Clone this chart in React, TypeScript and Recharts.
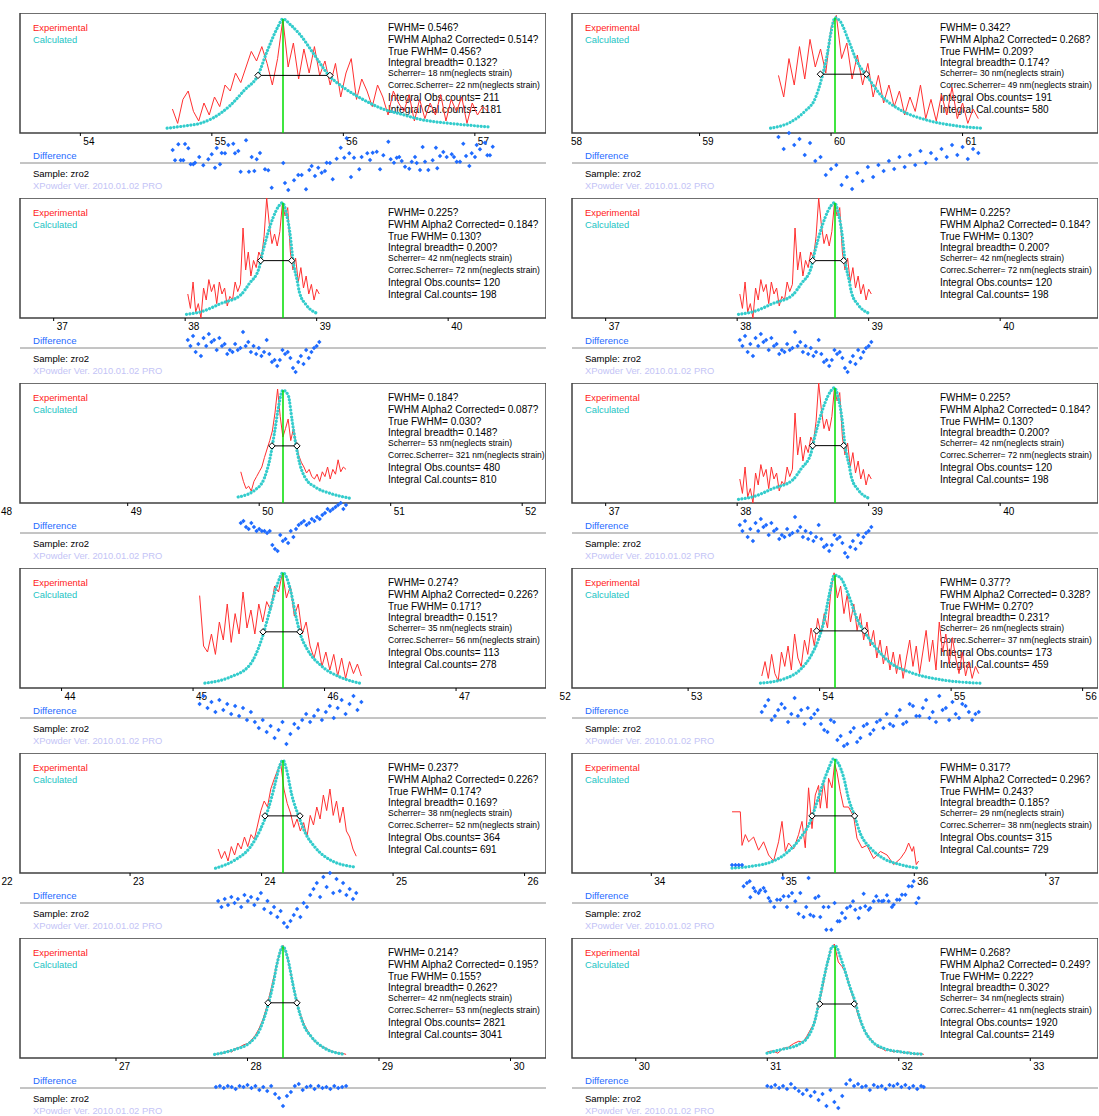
import React from "react";
import {
  ComposedChart,
  ScatterChart,
  Line,
  Scatter,
  XAxis,
  YAxis,
  ReferenceLine,
  ReferenceDot,
  ReferenceArea,
} from "recharts";

type Pt = [number, number];

// ---------- panel 1 (left, row 1) ----------
const l1Exp: Pt[] = [[54.70,20],[54.74,8],[54.78,28],[54.82,35],[54.86,18],[54.90,10],[54.94,25],[54.98,15],[55.02,30],[55.06,22],[55.10,40],[55.14,35],[55.18,50],[55.22,42],[55.26,55],[55.30,68],[55.34,60],[55.38,72],[55.42,58],[55.46,40],[55.50,62],[55.54,95],[55.58,55],[55.62,75],[55.66,45],[55.70,70],[55.74,50],[55.78,72],[55.82,48],[55.86,60],[55.90,40],[55.94,58],[55.98,30],[56.02,50],[56.06,62],[56.10,28],[56.14,45],[56.18,35],[56.22,22],[56.26,40],[56.30,30],[56.34,15],[56.38,35],[56.42,25],[56.46,18],[56.50,32],[56.54,10],[56.58,28],[56.62,12],[56.66,25],[56.70,15],[56.74,32],[56.78,10],[56.82,28],[56.86,18],[56.90,30],[56.94,8],[56.98,25],[57.02,15],[57.06,22],[57.10,18]];
const l1Calc: Pt[] = [[54.66,4],[54.8,6],[54.91,8],[55.0,12],[55.14,23],[55.25,36],[55.35,48],[55.42,68],[55.5,88],[55.54,95],[55.6,90],[55.67,82],[55.78,65],[55.89,48],[56.0,38],[56.1,31],[56.2,25],[56.3,20],[56.43,16],[56.6,11],[56.81,8],[57.0,6],[57.11,5]];
const l1Diff: Pt[] = [[54.702,13],[54.720,2.7],[54.745,18.7],[54.763,2.7],[54.783,2.7],[54.796,19],[54.821,14.7],[54.839,-1.3],[54.859,-1.3],[54.872,0.3],[54.904,6],[54.935,-2.3],[54.973,3.7],[54.999,8.7],[55.024,-4.7],[55.037,15],[55.062,-1.3],[55.075,10],[55.100,9.7],[55.125,18],[55.163,19.3],[55.176,9.7],[55.201,12],[55.219,-8.7],[55.260,22.7],[55.282,-8.7],[55.303,6],[55.323,-8],[55.341,3.7],[55.366,10],[55.404,-6.3],[55.429,-7.3],[55.455,-24.7],[55.543,0],[55.556,-20],[55.581,-27],[55.625,-17.3],[55.657,-12],[55.683,-12],[55.716,-26.3],[55.741,-7],[55.759,-3],[55.784,-13],[55.809,-4.7],[55.835,-9.7],[55.860,-8],[55.873,0.3],[55.898,0],[55.919,-16.3],[55.949,4.3],[55.980,15.3],[56.007,5.3],[56.025,24.7],[56.045,9.7],[56.058,-14],[56.081,5.3],[56.121,-6.3],[56.139,6],[56.182,9.7],[56.203,3],[56.223,10.3],[56.254,11.3],[56.279,-6.3],[56.304,7.7],[56.342,21.3],[56.360,3.7],[56.385,0.3],[56.406,5.3],[56.425,6],[56.444,2],[56.469,-3.7],[56.501,-5.7],[56.520,1.3],[56.545,6],[56.558,0],[56.583,-7],[56.603,16],[56.621,1.3],[56.646,-7],[56.679,2.7],[56.704,15.3],[56.714,-5.3],[56.735,7],[56.760,11],[56.786,6],[56.824,8.7],[56.841,6],[56.862,1.3],[56.887,1.3],[56.912,19.3],[56.933,7],[56.958,-3],[56.976,9.7],[57.001,6],[57.014,18],[57.039,13.7],[57.077,20.3],[57.095,7.7],[57.115,7.7],[57.136,16.3]];
const l1Fwhm: [number, number, number] = [55.351, 55.898, 48];
const l1Stats = ["FWHM= 0.546?", "FWHM Alpha2 Corrected= 0.514?", "True FWHM= 0.456?", "Integral breadth= 0.132?", "Scherrer= 18 nm(neglects strain)", "Correc.Scherrer= 22 nm(neglects strain)", "Integral Obs.counts= 211", "Integral Cal.counts= 1181"];

// ---------- panel 2 (38.7 deg, used three times) ----------
const p38Exp: Pt[] = [[38.02,20],[38.04,8],[38.06,30],[38.08,5],[38.10,12],[38.12,0],[38.14,25],[38.16,15],[38.18,32],[38.20,22],[38.22,28],[38.24,12],[38.26,30],[38.28,20],[38.30,25],[38.32,10],[38.34,18],[38.36,15],[38.38,30],[38.40,22],[38.42,28],[38.44,75],[38.46,40],[38.48,55],[38.50,35],[38.52,48],[38.54,42],[38.56,55],[38.58,50],[38.60,68],[38.62,100],[38.64,78],[38.66,62],[38.68,70],[38.70,60],[38.72,72],[38.74,96],[38.76,85],[38.78,92],[38.80,55],[38.82,40],[38.84,50],[38.86,30],[38.88,42],[38.90,25],[38.92,35],[38.94,20],[38.96,28],[38.98,15],[39.00,24],[39.02,20]];
const p38Calc: Pt[] = [[38.01,3],[38.13,5.5],[38.27,12],[38.42,19],[38.49,29],[38.56,41],[38.59,55],[38.63,71],[38.67,84],[38.71,93],[38.74,96],[38.77,87],[38.80,68],[38.82,48],[38.85,32],[38.87,21],[38.92,11],[39.0,4]];
const p38Diff: Pt[] = [[38.02,8],[38.04,2],[38.06,12],[38.08,-4],[38.10,4],[38.12,-8],[38.14,10],[38.16,2],[38.18,14],[38.20,6],[38.22,8],[38.24,-2],[38.26,10],[38.28,2],[38.30,4],[38.32,-6],[38.34,-2],[38.36,-4],[38.38,4],[38.40,-2],[38.42,0],[38.44,16],[38.46,2],[38.48,6],[38.50,-4],[38.52,2],[38.54,-6],[38.56,0],[38.58,-8],[38.60,-4],[38.62,8],[38.64,-6],[38.66,-14],[38.68,-12],[38.70,-18],[38.72,-12],[38.74,-2],[38.76,-6],[38.78,-4],[38.80,-10],[38.82,-20],[38.84,-24],[38.86,-14],[38.88,-8],[38.90,-16],[38.92,-2],[38.94,-10],[38.96,-4],[38.98,0],[39.00,2],[39.02,6]];
const p38Fwhm: [number, number, number] = [38.574, 38.81, 47.8];
const p38Stats = ["FWHM= 0.225?", "FWHM Alpha2 Corrected= 0.184?", "True FWHM= 0.130?", "Integral breadth= 0.200?", "Scherrer= 42 nm(neglects strain)", "Correc.Scherrer= 72 nm(neglects strain)", "Integral Obs.counts= 120", "Integral Cal.counts= 198"];

// ---------- panel 3 (left, row 3) ----------
const l3Exp: Pt[] = [[49.86,26],[49.88,18],[49.90,12],[49.92,14],[49.94,10],[49.96,18],[49.98,22],[50.00,26],[50.02,30],[50.04,38],[50.06,45],[50.08,52],[50.10,60],[50.12,75],[50.14,95],[50.16,72],[50.18,55],[50.20,62],[50.22,70],[50.24,52],[50.26,62],[50.28,50],[50.30,40],[50.32,34],[50.34,30],[50.36,25],[50.38,28],[50.40,22],[50.42,20],[50.44,24],[50.46,18],[50.48,26],[50.50,22],[50.52,30],[50.54,20],[50.56,28],[50.58,24],[50.60,36],[50.62,26],[50.64,30],[50.66,28]];
const l3Calc: Pt[] = [[49.84,5],[49.97,11],[50.04,21],[50.08,36],[50.12,61],[50.15,82],[50.18,94],[50.22,90],[50.25,69],[50.28,48],[50.31,32],[50.35,21],[50.43,13],[50.54,8],[50.69,4]];
const l3Diff: Pt[] = [[49.86,10],[49.88,12],[49.90,6],[49.92,4],[49.94,10],[49.96,6],[49.98,2],[50.00,4],[50.02,2],[50.04,2],[50.06,0],[50.08,2],[50.10,-12],[50.12,-16],[50.14,-18],[50.16,-2],[50.18,-8],[50.20,-6],[50.22,-10],[50.24,2],[50.26,-4],[50.28,4],[50.30,8],[50.32,10],[50.34,12],[50.36,8],[50.38,10],[50.40,14],[50.42,12],[50.44,16],[50.46,14],[50.48,18],[50.50,20],[50.52,24],[50.54,22],[50.56,24],[50.58,26],[50.60,28],[50.62,30],[50.64,24],[50.66,28]];
const l3Fwhm: [number, number, number] = [50.097, 50.287, 47.6];
const l3Stats = ["FWHM= 0.184?", "FWHM Alpha2 Corrected= 0.087?", "True FWHM= 0.030?", "Integral breadth= 0.148?", "Scherrer= 53 nm(neglects strain)", "Correc.Scherrer= 321 nm(neglects strain)", "Integral Obs.counts= 480", "Integral Cal.counts= 810"];

// ---------- panel 4 (left, row 4) ----------
const l4Exp: Pt[] = [[45.05,77],[45.08,35],[45.11,30],[45.14,45],[45.17,28],[45.20,55],[45.23,40],[45.26,70],[45.29,38],[45.32,62],[45.35,45],[45.38,80],[45.41,50],[45.44,65],[45.47,45],[45.50,70],[45.53,55],[45.56,72],[45.59,65],[45.62,85],[45.65,80],[45.68,96],[45.71,75],[45.74,85],[45.77,60],[45.80,70],[45.83,45],[45.86,55],[45.89,35],[45.92,25],[45.95,38],[45.98,18],[46.01,30],[46.04,15],[46.07,28],[46.10,10],[46.13,25],[46.16,8],[46.19,22],[46.22,12],[46.25,20],[46.28,10]];
const l4Calc: Pt[] = [[45.09,4],[45.28,9],[45.43,19],[45.52,40],[45.585,65],[45.64,86],[45.684,96],[45.74,82],[45.78,61],[45.81,47],[45.87,32],[45.97,19],[46.12,9],[46.27,4]];
const l4Diff: Pt[] = [[45.05,14],[45.08,22],[45.11,10],[45.14,16],[45.17,6],[45.20,18],[45.23,8],[45.26,14],[45.29,4],[45.32,12],[45.35,2],[45.38,10],[45.41,-2],[45.44,6],[45.47,-4],[45.50,-10],[45.53,-2],[45.56,-14],[45.59,-8],[45.62,-20],[45.65,-12],[45.68,-4],[45.71,-26],[45.74,-16],[45.77,-6],[45.80,-10],[45.83,-2],[45.86,4],[45.89,-4],[45.92,2],[45.95,8],[45.98,-2],[46.01,6],[46.04,12],[46.07,0],[46.10,10],[46.13,18],[46.16,4],[46.19,14],[46.22,22],[46.25,8],[46.28,16]];
const l4Fwhm: [number, number, number] = [45.532, 45.813, 46.8];
const l4Stats = ["FWHM= 0.274?", "FWHM Alpha2 Corrected= 0.226?", "True FWHM= 0.171?", "Integral breadth= 0.151?", "Scherrer= 35 nm(neglects strain)", "Correc.Scherrer= 56 nm(neglects strain)", "Integral Obs.counts= 113", "Integral Cal.counts= 278"];

// ---------- panel 5 (left, row 5) ----------
const l5Exp: Pt[] = [[23.670,20],[23.695,12],[23.720,18],[23.745,10],[23.770,22],[23.795,15],[23.820,25],[23.845,20],[23.870,30],[23.895,22],[23.920,32],[23.945,28],[23.970,40],[23.995,52],[24.020,60],[24.045,55],[24.070,70],[24.095,78],[24.120,85],[24.145,92],[24.170,70],[24.195,58],[24.220,50],[24.245,38],[24.270,45],[24.295,35],[24.320,42],[24.345,30],[24.370,48],[24.395,40],[24.420,55],[24.445,45],[24.470,65],[24.495,52],[24.520,70],[24.545,48],[24.570,60],[24.595,42],[24.620,55],[24.645,35],[24.670,30],[24.695,20],[24.720,14]];
const l5Calc: Pt[] = [[23.65,4],[23.80,11],[23.91,21],[23.99,36],[24.05,53],[24.10,73],[24.14,90],[24.163,94],[24.19,86],[24.23,65],[24.28,48],[24.33,34],[24.41,21],[24.52,11],[24.71,5]];
const l5Diff: Pt[] = [[23.670,2],[23.695,-4],[23.720,4],[23.745,-2],[23.770,6],[23.795,0],[23.820,4],[23.845,-4],[23.870,8],[23.895,2],[23.920,6],[23.945,-2],[23.970,4],[23.995,10],[24.020,-6],[24.045,2],[24.070,-10],[24.095,-4],[24.120,-14],[24.145,-8],[24.170,-20],[24.195,-24],[24.220,-18],[24.245,-12],[24.270,-6],[24.295,-14],[24.320,0],[24.345,-4],[24.370,8],[24.395,14],[24.420,20],[24.445,6],[24.470,26],[24.495,16],[24.520,30],[24.545,10],[24.570,24],[24.595,12],[24.620,20],[24.645,8],[24.670,14],[24.695,4],[24.720,10]];
const l5Fwhm: [number, number, number] = [24.026, 24.292, 47.6];
const l5Stats = ["FWHM= 0.237?", "FWHM Alpha2 Corrected= 0.226?", "True FWHM= 0.174?", "Integral breadth= 0.169?", "Scherrer= 38 nm(neglects strain)", "Correc.Scherrer= 52 nm(neglects strain)", "Integral Obs.counts= 364", "Integral Cal.counts= 691"];

// ---------- panel 6 (left, row 6) ----------
const l6Exp: Pt[] = [[27.76,3],[27.79,4],[27.82,4],[27.85,6],[27.88,5],[27.91,8],[27.94,9],[27.97,11],[28.00,12],[28.03,15],[28.06,19],[28.09,25],[28.12,33],[28.15,44],[28.18,58],[28.21,72],[28.24,86],[28.27,94],[28.30,86],[28.33,70],[28.36,54],[28.39,40],[28.42,31],[28.45,24],[28.48,19],[28.51,14],[28.54,12],[28.57,9],[28.60,8],[28.63,6],[28.66,5],[28.69,4],[28.72,4],[28.75,3]];
const l6Calc: Pt[] = [[27.75,3],[27.9,7],[28.02,13],[28.095,24],[28.156,44],[28.194,61],[28.232,82],[28.27,93],[28.308,82],[28.346,61],[28.376,46],[28.422,29],[28.491,17],[28.589,8],[28.741,3]];
const l6Diff: Pt[] = [[27.76,1],[27.79,2],[27.82,0],[27.85,2],[27.88,1],[27.91,-1],[27.94,2],[27.97,1],[28.00,3],[28.03,0],[28.06,2],[28.09,-2],[28.12,1],[28.15,-3],[28.18,2],[28.21,-6],[28.24,-10],[28.27,-18],[28.30,-8],[28.33,-4],[28.36,2],[28.39,4],[28.42,-2],[28.45,1],[28.48,2],[28.51,-1],[28.54,2],[28.57,0],[28.60,1],[28.63,-1],[28.66,2],[28.69,0],[28.72,1],[28.75,2]];
const l6Fwhm: [number, number, number] = [28.156, 28.376, 46];
const l6Stats = ["FWHM= 0.214?", "FWHM Alpha2 Corrected= 0.195?", "True FWHM= 0.155?", "Integral breadth= 0.262?", "Scherrer= 42 nm(neglects strain)", "Correc.Scherrer= 53 nm(neglects strain)", "Integral Obs.counts= 2821", "Integral Cal.counts= 3041"];

// ---------- panel 7 (right, row 1) ----------
const r1Exp: Pt[] = [[59.60,48],[59.64,30],[59.68,62],[59.72,40],[59.76,72],[59.80,45],[59.84,78],[59.88,55],[59.92,70],[59.96,50],[60.00,88],[60.04,98],[60.08,62],[60.12,75],[60.16,45],[60.20,65],[60.24,40],[60.28,58],[60.32,30],[60.36,48],[60.40,25],[60.44,40],[60.48,22],[60.52,35],[60.56,15],[60.60,30],[60.64,18],[60.68,40],[60.72,12],[60.76,28],[60.80,10],[60.84,32],[60.88,15],[60.92,38],[60.96,12],[61.00,25],[61.04,8],[61.08,20],[61.12,12]];
const r1Calc: Pt[] = [[59.54,4],[59.69,9],[59.80,18],[59.88,29],[59.93,46],[59.97,65],[60.00,84],[60.03,96],[60.07,93],[60.13,78],[60.20,59],[60.27,48],[60.375,32],[60.53,19],[60.72,11],[60.95,6],[61.14,4]];
const r1Diff: Pt[] = [[59.60,26],[59.64,14],[59.68,30],[59.72,18],[59.76,24],[59.80,8],[59.84,20],[59.88,2],[59.92,6],[59.96,-12],[60.00,-6],[60.04,-2],[60.08,-22],[60.12,-14],[60.16,-26],[60.20,-10],[60.24,-18],[60.28,-4],[60.32,-14],[60.36,-2],[60.40,-8],[60.44,2],[60.48,-6],[60.52,6],[60.56,-4],[60.60,8],[60.64,-2],[60.68,12],[60.72,0],[60.76,10],[60.80,4],[60.84,14],[60.88,6],[60.92,18],[60.96,8],[61.00,16],[61.04,4],[61.08,14],[61.12,10]];
const r1Fwhm: [number, number, number] = [59.919, 60.269, 49];
const r1Stats = ["FWHM= 0.342?", "FWHM Alpha2 Corrected= 0.268?", "True FWHM= 0.209?", "Integral breadth= 0.174?", "Scherrer= 30 nm(neglects strain)", "Correc.Scherrer= 49 nm(neglects strain)", "Integral Obs.counts= 191", "Integral Cal.counts= 580"];

// ---------- panel 10 (right, row 4) ----------
const r4Exp: Pt[] = [[53.560,10],[53.585,22],[53.610,8],[53.635,28],[53.660,12],[53.685,6],[53.710,30],[53.735,18],[53.760,35],[53.785,15],[53.810,45],[53.835,25],[53.860,18],[53.885,40],[53.910,28],[53.935,50],[53.960,35],[53.985,58],[54.010,45],[54.035,62],[54.060,50],[54.085,80],[54.110,96],[54.135,75],[54.160,85],[54.185,62],[54.210,78],[54.235,55],[54.260,70],[54.285,48],[54.310,62],[54.335,40],[54.360,55],[54.385,35],[54.410,48],[54.435,25],[54.460,40],[54.485,20],[54.510,35],[54.535,15],[54.560,30],[54.585,12],[54.610,28],[54.635,8],[54.660,25],[54.685,40],[54.710,18],[54.735,35],[54.760,12],[54.785,30],[54.810,48],[54.835,22],[54.860,40],[54.885,15],[54.910,55],[54.935,30],[54.960,45],[54.985,20],[55.010,42],[55.035,25],[55.060,12],[55.085,30],[55.110,10],[55.135,22],[55.160,8],[55.185,18],[55.210,12]];
const r4Calc: Pt[] = [[53.55,4],[53.74,8],[53.85,15],[53.94,28],[53.99,40],[54.036,57],[54.074,78],[54.112,94],[54.157,92],[54.218,78],[54.287,57],[54.34,47],[54.424,34],[54.538,21],[54.69,13],[54.918,7],[55.222,4]];
const r4Diff: Pt[] = [[53.56,6],[53.585,12],[53.61,18],[53.635,-2],[53.66,2],[53.685,8],[53.71,14],[53.735,10],[53.76,-4],[53.785,4],[53.81,20],[53.835,2],[53.86,8],[53.885,-6],[53.91,10],[53.935,0],[53.96,4],[53.985,8],[54.01,-6],[54.035,-12],[54.06,-14],[54.085,-2],[54.11,-4],[54.135,-22],[54.16,-18],[54.185,-28],[54.21,-26],[54.235,-14],[54.26,-10],[54.285,-24],[54.31,-20],[54.335,-8],[54.36,-6],[54.385,-16],[54.41,-12],[54.435,-4],[54.46,-2],[54.485,-10],[54.51,4],[54.535,-6],[54.56,-8],[54.585,2],[54.61,8],[54.635,-6],[54.66,-4],[54.685,14],[54.71,12],[54.735,2],[54.76,2],[54.785,10],[54.81,18],[54.835,0],[54.86,6],[54.885,-4],[54.91,22],[54.935,8],[54.96,10],[54.985,-2],[55.01,16],[55.035,4],[55.06,0],[55.085,14],[55.11,12],[55.135,6],[55.16,-2],[55.185,4],[55.21,6]];
const r4Fwhm: [number, number, number] = [53.977, 54.342, 47.6];
const r4Stats = ["FWHM= 0.377?", "FWHM Alpha2 Corrected= 0.328?", "True FWHM= 0.270?", "Integral breadth= 0.231?", "Scherrer= 26 nm(neglects strain)", "Correc.Scherrer= 37 nm(neglects strain)", "Integral Obs.counts= 173", "Integral Cal.counts= 459"];

// ---------- panel 11 (right, row 5) ----------
const r5Exp: Pt[] = [[34.614,51],[34.677,51],[34.690,23],[34.715,32],[34.740,26],[34.778,30],[34.816,19],[34.854,26],[34.892,15],[34.930,10],[34.968,26],[34.994,43],[35.019,18],[35.044,25],[35.082,20],[35.120,32],[35.146,43],[35.171,21],[35.196,71],[35.222,37],[35.247,65],[35.272,73],[35.285,54],[35.310,76],[35.336,54],[35.348,79],[35.374,71],[35.394,91],[35.412,84],[35.437,68],[35.462,55],[35.500,55],[35.539,47],[35.564,29],[35.602,21],[35.640,23],[35.691,12],[35.742,18],[35.793,15],[35.843,7],[35.894,12],[35.932,18],[35.957,25],[35.983,18],[35.995,22],[36.015,7],[36.033,10]];
const r5Calc: Pt[] = [[34.614,4],[34.753,5.5],[34.93,10],[35.032,17],[35.133,29],[35.209,43],[35.26,59],[35.31,76],[35.348,87],[35.386,95],[35.424,91],[35.462,80],[35.5,62],[35.544,48],[35.589,33],[35.665,21],[35.767,12],[35.894,7],[36.033,4]];
const r5Diff: Pt[] = [[34.614,38],[34.64,38],[34.665,38],[34.69,38],[34.702,16.7],[34.727,20],[34.748,21.7],[34.753,5.7],[34.778,15],[34.791,11.7],[34.816,10],[34.829,12.7],[34.854,15],[34.867,11.7],[34.892,5],[34.905,1.7],[34.935,-4],[34.956,3.3],[34.981,3.3],[35.001,25],[35.006,6.7],[35.032,-4],[35.044,6.7],[35.070,10],[35.095,1.7],[35.120,-10.7],[35.133,10],[35.158,-14],[35.178,-4],[35.196,25],[35.209,-11.7],[35.234,-13.3],[35.247,5],[35.272,6.7],[35.285,-14],[35.310,-4],[35.331,-26.7],[35.348,-4],[35.369,-26.7],[35.394,0],[35.417,-18.3],[35.432,-18.3],[35.450,-10],[35.475,-15],[35.488,-5],[35.513,-3.3],[35.534,1.7],[35.551,-6.7],[35.577,-15],[35.589,-5],[35.615,9.3],[35.627,-3.3],[35.653,-6.7],[35.665,-5],[35.691,1.7],[35.711,6.7],[35.729,2.3],[35.754,1.7],[35.767,2.3],[35.792,7.7],[35.805,1.7],[35.830,-4],[35.843,-1.7],[35.868,3.3],[35.888,3.3],[35.906,8.3],[35.932,8.3],[35.957,16.7],[35.982,16.7],[35.995,21.7],[36.015,0],[36.033,5]];
const r5Fwhm: [number, number, number] = [35.222, 35.546, 47.6];
const r5Stats = ["FWHM= 0.317?", "FWHM Alpha2 Corrected= 0.296?", "True FWHM= 0.243?", "Integral breadth= 0.185?", "Scherrer= 29 nm(neglects strain)", "Correc.Scherrer= 38 nm(neglects strain)", "Integral Obs.counts= 315", "Integral Cal.counts= 729"];

// ---------- panel 12 (right, row 6) ----------
const r6Exp: Pt[] = [[31.00,5],[31.04,6],[31.08,4],[31.12,8],[31.16,9],[31.20,12],[31.24,14],[31.27,13],[31.30,18],[31.33,24],[31.36,30],[31.39,44],[31.42,58],[31.45,76],[31.48,90],[31.51,95],[31.54,80],[31.57,76],[31.60,70],[31.63,58],[31.66,48],[31.69,36],[31.72,27],[31.75,21],[31.78,16],[31.81,13],[31.84,9],[31.87,8],[31.90,6],[31.93,7],[31.96,5],[32.00,6],[32.04,4],[32.08,5],[32.12,3],[32.16,4],[32.19,3]];
const r6Calc: Pt[] = [[30.998,4],[31.103,7],[31.234,11],[31.312,18],[31.364,32],[31.396,48],[31.43,66],[31.464,82],[31.495,93],[31.522,93],[31.553,85],[31.587,74],[31.626,60],[31.665,48],[31.704,33],[31.744,22],[31.796,14],[31.887,8],[32.018,5],[32.188,3]];
const r6Diff: Pt[] = [[31.00,2],[31.03,1],[31.06,3],[31.09,0],[31.12,2],[31.15,-1],[31.18,4],[31.21,0],[31.24,-3],[31.27,-6],[31.30,-2],[31.33,-8],[31.36,-4],[31.39,-12],[31.42,-6],[31.45,-18],[31.48,-2],[31.51,-14],[31.54,-20],[31.57,-8],[31.60,4],[31.63,8],[31.66,2],[31.69,4],[31.72,1],[31.75,2],[31.78,-2],[31.81,3],[31.84,1],[31.87,2],[31.90,-1],[31.93,3],[31.96,2],[31.99,4],[32.02,1],[32.05,3],[32.08,0],[32.11,2],[32.14,-1],[32.17,2],[32.19,1]];
const r6Fwhm: [number, number, number] = [31.399, 31.661, 45];
const r6Stats = ["FWHM= 0.268?", "FWHM Alpha2 Corrected= 0.249?", "True FWHM= 0.222?", "Integral breadth= 0.302?", "Scherrer= 34 nm(neglects strain)", "Correc.Scherrer= 41 nm(neglects strain)", "Integral Obs.counts= 1920", "Integral Cal.counts= 2149"];

// layout
const FONT = '"Liberation Sans", Arial, sans-serif';
const PX_PER_DEG = 131.5;
const BOX_W = 526;
const BOX_H = 120;
const EXTRA = 30; // axis labels may sit left of the box
const COL_X = [20, 572];
const ROW_Y0 = 13;
const ROW_STEP = 185;
const STAT_OFFSETS = [15.4, 27.6, 39.2, 50, 60.6, 72.4, 85.2, 97];

interface Panel {
  row: number;
  col: number;
  peak: number;
  ticks: number[];
  exp: Pt[];
  calc: Pt[];
  diff: Pt[];
  fwhm: [number, number, number];
  stats: string[];
}

const panels: Panel[] = [
  { row: 0, col: 0, peak: 55.541, ticks: [54, 55, 56, 57], exp: l1Exp, calc: l1Calc, diff: l1Diff, fwhm: l1Fwhm, stats: l1Stats },
  { row: 1, col: 0, peak: 38.744, ticks: [37, 38, 39, 40], exp: p38Exp, calc: p38Calc, diff: p38Diff, fwhm: p38Fwhm, stats: p38Stats },
  { row: 2, col: 0, peak: 50.181, ticks: [48, 49, 50, 51, 52], exp: l3Exp, calc: l3Calc, diff: l3Diff, fwhm: l3Fwhm, stats: l3Stats },
  { row: 3, col: 0, peak: 45.684, ticks: [44, 45, 46, 47], exp: l4Exp, calc: l4Calc, diff: l4Diff, fwhm: l4Fwhm, stats: l4Stats },
  { row: 4, col: 0, peak: 24.163, ticks: [22, 23, 24, 25, 26], exp: l5Exp, calc: l5Calc, diff: l5Diff, fwhm: l5Fwhm, stats: l5Stats },
  { row: 5, col: 0, peak: 28.27, ticks: [27, 28, 29, 30], exp: l6Exp, calc: l6Calc, diff: l6Diff, fwhm: l6Fwhm, stats: l6Stats },
  { row: 0, col: 1, peak: 60.03, ticks: [58, 59, 60, 61], exp: r1Exp, calc: r1Calc, diff: r1Diff, fwhm: r1Fwhm, stats: r1Stats },
  { row: 1, col: 1, peak: 38.744, ticks: [37, 38, 39, 40], exp: p38Exp, calc: p38Calc, diff: p38Diff, fwhm: p38Fwhm, stats: p38Stats },
  { row: 2, col: 1, peak: 38.744, ticks: [37, 38, 39, 40], exp: p38Exp, calc: p38Calc, diff: p38Diff, fwhm: p38Fwhm, stats: p38Stats },
  { row: 3, col: 1, peak: 54.117, ticks: [52, 53, 54, 55, 56], exp: r4Exp, calc: r4Calc, diff: r4Diff, fwhm: r4Fwhm, stats: r4Stats },
  { row: 4, col: 1, peak: 35.397, ticks: [34, 35, 36, 37], exp: r5Exp, calc: r5Calc, diff: r5Diff, fwhm: r5Fwhm, stats: r5Stats },
  { row: 5, col: 1, peak: 31.515, ticks: [30, 31, 32, 33], exp: r6Exp, calc: r6Calc, diff: r6Diff, fwhm: r6Fwhm, stats: r6Stats },
];

const toXY = (d: Pt[]) => d.map(([x, y]) => ({ x, y }));

const DiffMark = (props: any) => {
  const { cx, cy } = props;
  if (cx == null || cy == null) return null;
  const s = 2.2;
  return <path d={`M${cx},${cy - s}L${cx + s},${cy}L${cx},${cy + s}L${cx - s},${cy}Z`} fill="#1f6bff" />;
};

const FwhmMark = (props: any) => {
  const { cx, cy } = props;
  if (cx == null || cy == null) return null;
  const s = 3.2;
  return <path d={`M${cx},${cy - s}L${cx + s},${cy}L${cx},${cy + s}L${cx - s},${cy}Z`} fill="#fff" stroke="#000" strokeWidth={1} />;
};

function Txt({ x, cy, size = 10, color = "#000", children }: { x: number; cy: number; size?: number; color?: string; children: React.ReactNode }) {
  return (
    <div
      style={{
        position: "absolute",
        left: x,
        top: cy - size * 0.55,
        fontFamily: FONT,
        fontSize: size,
        lineHeight: `${size}px`,
        color,
        whiteSpace: "nowrap",
      }}
    >
      {children}
    </div>
  );
}

function PeakPanel({ p }: { p: Panel }) {
  const left = COL_X[p.col];
  const top = ROW_Y0 + ROW_STEP * p.row;
  const lo = p.peak - 2;
  const hi = p.peak + 2;
  const axisLo = lo - EXTRA / PX_PER_DEG;
  const calcTop = Math.max(...p.calc.map((d) => d[1]));
  const bottom = top + BOX_H;

  const renderTick = (props: any) => {
    const { x, y, payload } = props;
    // labels left of the page edge are nudged in so they stay readable
    const tx = Math.max(x + 3, -left + EXTRA + 1);
    return (
      <g>
        {payload.value >= lo && <line x1={x} y1={y} x2={x} y2={y + 3} stroke="#000" strokeWidth={1} />}
        <text x={tx} y={y + 12} fontSize={10} fontFamily={FONT} fill="#000">
          {payload.value}
        </text>
      </g>
    );
  };

  return (
    <>
      <Txt x={left + 13} cy={top + 15.4} size={9.4} color="#ff2020">Experimental</Txt>
      <Txt x={left + 13} cy={top + 27.6} size={9.4} color="#1cc4c4">Calculated</Txt>
      {p.stats.map((s, i) => (
        <Txt key={i} x={left + 368} cy={top + STAT_OFFSETS[i]} size={i === 4 || i === 5 ? 8.5 : 10}>
          {s}
        </Txt>
      ))}
      <Txt x={left + 13} cy={bottom + 23.7} size={9.6} color="#1f6bff">Difference</Txt>
      <Txt x={left + 13} cy={bottom + 41.7} size={9.5}>Sample: zro2</Txt>
      <Txt x={left + 13} cy={bottom + 52.7} size={9.4} color="#c4c4f6">XPowder Ver. 2010.01.02 PRO</Txt>

      <div style={{ position: "absolute", left: left - EXTRA, top }}>
        <ComposedChart width={BOX_W + EXTRA} height={BOX_H + 20} margin={{ top: 0, right: 0, bottom: 0, left: 0 }}>
          <XAxis
            type="number"
            dataKey="x"
            domain={[axisLo, hi]}
            ticks={p.ticks}
            interval={0}
            allowDataOverflow
            axisLine={false}
            tickLine={false}
            tickSize={0}
            tickMargin={0}
            height={20}
            tick={renderTick}
          />
          <YAxis type="number" dataKey="y" domain={[0, 100]} hide allowDataOverflow />
          <ReferenceArea x1={lo} x2={hi} y1={0} y2={100} fill="none" fillOpacity={0} stroke="#404040" strokeWidth={1.5} ifOverflow="visible" />
          <Line data={toXY(p.exp)} dataKey="y" type="linear" stroke="#ff3030" strokeWidth={1} dot={false} isAnimationActive={false} />
          <Line
            data={toXY(p.calc)}
            dataKey="y"
            type="monotone"
            stroke="#33cccc"
            strokeWidth={3.2}
            strokeDasharray="0.01 3.4"
            strokeLinecap="round"
            dot={false}
            isAnimationActive={false}
          />
          <ReferenceLine segment={[{ x: p.peak, y: 0 }, { x: p.peak, y: calcTop }]} stroke="#00dd00" strokeWidth={1.5} ifOverflow="visible" />
          <ReferenceLine segment={[{ x: p.fwhm[0], y: p.fwhm[2] }, { x: p.fwhm[1], y: p.fwhm[2] }]} stroke="#000" strokeWidth={1} />
          <ReferenceDot x={p.fwhm[0]} y={p.fwhm[2]} r={3} shape={FwhmMark} />
          <ReferenceDot x={p.fwhm[1]} y={p.fwhm[2]} r={3} shape={FwhmMark} />
        </ComposedChart>
      </div>

      <div style={{ position: "absolute", left: left - EXTRA, top: bottom + 29.5 - 40 }}>
        <ScatterChart width={BOX_W + EXTRA} height={80} margin={{ top: 0, right: 0, bottom: 0, left: 0 }}>
          <XAxis type="number" dataKey="x" domain={[axisLo, hi]} hide allowDataOverflow />
          <YAxis type="number" dataKey="y" domain={[-40, 40]} hide allowDataOverflow />
          <ReferenceLine segment={[{ x: lo, y: 0 }, { x: hi, y: 0 }]} stroke="#8a8a8a" strokeWidth={1} />
          <Scatter data={toXY(p.diff)} shape={DiffMark} isAnimationActive={false} />
        </ScatterChart>
      </div>
    </>
  );
}

export default function App() {
  return (
    <div
      style={{
        position: "absolute",
        left: 0,
        top: 0,
        width: 1099,
        height: 1116,
        background: "#fff",
        overflow: "hidden",
      }}
    >
      {panels.map((p, i) => (
        <PeakPanel key={i} p={p} />
      ))}
    </div>
  );
}
